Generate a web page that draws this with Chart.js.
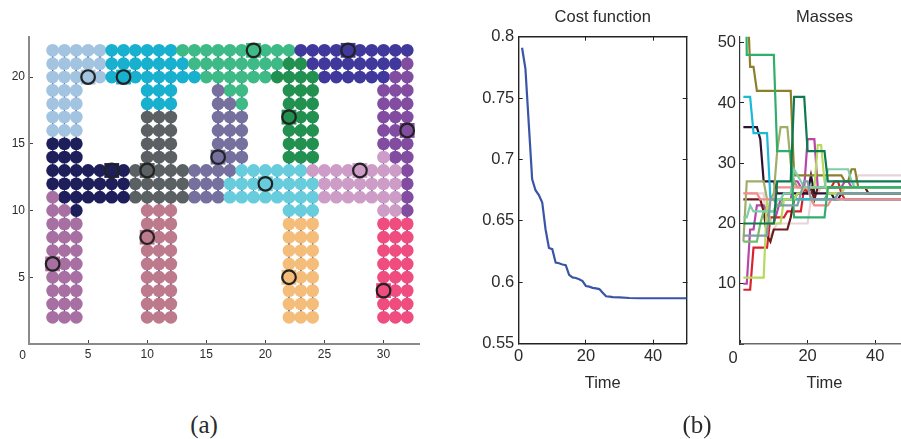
<!DOCTYPE html>
<html lang="en">
  <head>
    <title>clusters</title>
    <meta charset="utf-8">
    <script type="text/javascript" src="https://cdn.jsdelivr.net/npm/chart.js@4/dist/chart.umd.min.js"></script>
    <style>
      html, body { margin: 0; padding: 0; background: #fff; overflow: hidden; }
      body { position: relative; width: 901px; height: 439px; }
      canvas { position: absolute; top: 0; }
      span.lbl { position: absolute; transform: translate(-50%, -50%); color: #2b2b2b; line-height: 1; }
      span.tick { font-family: "Liberation Sans", sans-serif; }
      span.cap { font-family: "Liberation Serif", serif; font-size: 25px; }
    </style>
  </head>

  <body>
    <canvas id="grid-chart" width="440" height="370" style="left: 0"></canvas>
    <canvas id="cost-chart" width="230" height="400" style="left: 470px"></canvas>
    <canvas id="mass-chart" width="209" height="400" style="left: 700px"></canvas>
    <span class="lbl tick" style="left: 22.7px; top: 355px; font-size: 12px">0</span>
    <span class="lbl tick" style="left: 733px; top: 357px; font-size: 16.5px">0</span>
    <span class="lbl cap" style="left: 204px; top: 424px">(a)</span>
    <span class="lbl cap" style="left: 697px; top: 424px">(b)</span>

    <script>
      // one letter per node, x = 2..32, rows y = 22 down to 2
      var grid_rows = [
        "aaaaabbbbbbccccccccccdddddddddd",
        "aaaaabbbbbbbccccccccffdddddddde",
        "aaaaabbbbbbbbccccccffffddddddee",
        "aaa.....bbb...gcc...fff.....eee",
        "aaa.....bbb...ggc...fff.....eee",
        "aaa.....hhh...ggg...fff.....eee",
        "aaa.....hhh...ggg...fff.....eee",
        "iii.....hhh...ggg...fff.....eee",
        "iii.....hhh...ggg...fff.....kee",
        "iiiiiiihhhhhggggjjjjjjkkkkkkkke",
        "iiiiiiihhhhhgggjjjjjjjjkkkkkkke",
        "liiiiiihhhhhgggjjjjjjjjkkkkkkke",
        "lli.....mmm.........jjj.....kke",
        "lll.....mmm.........nnn.....ooo",
        "lll.....mmm.........nnn.....ooo",
        "lll.....mmm.........nnn.....ooo",
        "lll.....mmm.........nnn.....ooo",
        "lll.....mmm.........nnn.....ooo",
        "lll.....mmm.........nnn.....ooo",
        "lll.....mmm.........nnn.....ooo",
        "lll.....mmm.........nnn.....ooo"
      ];
      var cluster_keys = "abcdefghijklmno";
      var cluster_colors = ["#a3c4e0", "#17b1cf", "#3dba85", "#40389a", "#824ca0",
                            "#22904f", "#75709d", "#5b6163", "#1d1e5a", "#67ccdc",
                            "#cd9dc8", "#a86fa2", "#bd7a8c", "#f4bd7a", "#ef4d80"];
      var center_x = [5, 8, 19, 27, 22, 32, 16, 7, 10, 20, 28, 2, 10, 22, 30];
      var center_y = [20, 20, 22, 22, 17, 16, 14, 13, 13, 12, 13, 6, 8, 5, 4];

      var cost_time = [1, 2, 3, 4, 5, 6, 7, 8, 9, 10,
                       11, 12, 13, 14, 15, 16, 17, 18, 19, 20,
                       21, 22, 23, 24, 25, 26, 27, 28, 30, 33,
                       36, 40, 45, 50];
      var cost_values = [0.791, 0.774, 0.729, 0.684, 0.675, 0.671, 0.665, 0.643, 0.628, 0.627,
                         0.616, 0.6155, 0.6145, 0.614, 0.606, 0.604, 0.6035, 0.6025, 0.601, 0.597,
                         0.5965, 0.5955, 0.595, 0.5945, 0.5915, 0.5886, 0.5883, 0.588, 0.5878, 0.5872,
                         0.587, 0.587, 0.587, 0.587];

      // masses, one value per time step t = 1..50
      var mass_pale = [25,25,25,25,25,25,25,18,18,19, 20,20,20,20,20,20,20,20,20,20,
                       24,25,25,26,26,26,26,26,26,26, 26,26,26,27,28,28,28,28,28,28,
                       28,28,28,28,28,28,28,28,28,28];
      var mass_magenta = [10,10,19,19,23,23,23,22,20,20, 22,24,24,24,24,27,27,26,26,34,
                          34,34,26,26,26,26,26,26,26,26, 27,27,26,26,26,26,26,26,26,26,
                          26,26,26,26,26,26,26,26,26,26];
      var mass_red = [9,9,9,16,16,16,16,16,21,21, 21,21,21,22,22,22,22,22,26,25,
                      25,26,26,26,26,26,26,27,27,25, 24,24,24,24,24,24,24,24,24,24,
                      24,24,24,24,24,24,24,24,24,24];
      var mass_maroon = [24,24,24,24,24,24,22,18,17,19, 19,19,19,19,21,24,25,25,25,25,
                         26,24,26,26,26,26,26,26,26,26, 26,26,26,26,26,26,26,25,25,25,
                         25,25,25,25,25,25,25,25,25,25];
      var mass_black = [36,36,36,36,36,34,27,27,27,27, 25,25,25,25,25,25,25,25,25,25,
                        28,25,25,25,25,25,25,24,24,25, 25,25,25,25,25,25,25,25,25,25,
                        25,25,25,25,25,25,25,25,25,25];
      var mass_olive = [100,60,46,46,42,42,42,42,42,42, 42,42,42,42,42,28,28,28,28,28,
                        28,28,28,28,28,28,28,28,28,28, 27,27,29,29,26,26,26,26,26,26,
                        26,26,26,26,26,26,26,26,26,26];
      var mass_sage = [17,27,27,27,27,27,27,24,24,25, 32,36,36,36,30,27,26,26,26,26,
                       26,26,26,26,26,26,26,26,26,26, 26,26,26,26,26,26,26,26,26,26,
                       26,26,26,26,26,26,26,26,26,26];
      var mass_midgreen = [17,17,17,17,17,20,22,22,22,22, 23,23,24,24,24,24,24,24,24,24,
                           24,24,24,24,24,25,25,25,25,25, 25,25,25,25,25,25,25,25,25,25,
                           25,25,25,25,25,25,25,25,25,25];
      var mass_lime = [11,11,11,11,11,11,11,24,20,20, 20,20,24,24,24,24,25,25,26,26,
                       26,26,33,33,27,25,25,25,25,25, 26,26,26,26,26,26,26,26,26,26,
                       26,26,26,26,26,26,26,26,26,26];
      var mass_cyan = [41,41,41,35,35,35,35,35,24,24, 24,24,24,24,24,24,24,24,24,24,
                       24,24,24,24,24,24,24,24,24,24, 24,24,24,24,24,24,24,24,24,24,
                       24,24,24,24,24,24,24,24,24,24];
      var mass_salmon = [25,25,25,25,25,24,24,24,24,24, 26,26,26,26,26,26,26,26,26,26,
                         24,23,23,23,23,23,24,24,24,24, 24,24,24,24,24,24,24,24,24,24,
                         24,24,24,24,24,24,24,24,24,24];
      var mass_teal = [21,21,23,22,22,22,22,22,22,22, 24,24,25,25,25,29,28,27,26,26,
                       26,26,26,26,26,29,29,29,29,29, 29,29,27,26,26,26,26,26,26,26,
                       26,26,26,26,26,26,26,26,26,26];
      var mass_green = [100,48,48,48,48,48,48,48,48,48, 32,32,32,32,32,21,21,21,21,21,
                        21,21,21,21,21,26,26,26,26,26, 26,26,26,26,26,26,26,26,26,26,
                        26,26,26,26,26,26,26,26,26,26];
      var mass_greyteal = [18,18,18,18,18,18,18,18,24,24, 23,23,23,23,23,23,23,25,27,27,
                           24,24,24,24,24,24,24,24,25,25, 25,25,25,25,25,25,25,25,25,25,
                           25,25,25,25,25,25,25,25,25,25];
      var mass_darkgreen = [20,20,20,20,20,20,20,20,20,20, 27,27,27,27,27,41,41,41,41,32,
                            32,32,32,32,32,27,27,27,27,27, 27,27,27,27,27,27,27,27,27,27,
                            27,27,27,27,27,27,27,27,27,27];

      // bottom one first
      var mass_series = [mass_pale, mass_magenta, mass_red, mass_maroon, mass_black,
                         mass_olive, mass_sage, mass_midgreen, mass_cyan, mass_lime,
                         mass_salmon, mass_teal, mass_green, mass_greyteal, mass_darkgreen];
      var mass_colors = ["#e6d5d9", "#b646a8", "#d9222e", "#6d1a18", "#2b1433",
                         "#8d7f2b", "#9fae6a", "#72bf6a", "#1cb9d8", "#b9d85f",
                         "#f58b8b", "#7ccfa6", "#2fae6c", "#7f9ea6", "#0d7a50"];

      var SANS = "'Liberation Sans', sans-serif";
      Chart.defaults.animation = false;
      Chart.defaults.responsive = false;
      Chart.defaults.font.family = SANS;
      Chart.defaults.color = "#2b2b2b";
      Chart.defaults.plugins.legend.display = false;
      Chart.defaults.plugins.tooltip.enabled = false;

      function cell(x, y) {
        var row = grid_rows[22 - y];
        if (!row) return ".";
        return row.charAt(x - 2) || ".";
      }

      function cluster_points(key) {
        var pts = [];
        for (var y = 22; y >= 2; y--) {
          for (var x = 2; x <= 32; x++) {
            if (cell(x, y) == key) pts.push({x: x, y: y});
          }
        }
        return pts;
      }

      function graph_edges() {
        var pts = [];
        for (var y = 22; y >= 2; y--) {
          for (var x = 2; x <= 32; x++) {
            if (cell(x, y) == ".") continue;
            if (cell(x + 1, y) != ".") pts.push({x: x, y: y}, {x: x + 1, y: y}, {x: x, y: null});
            if (cell(x, y - 1) != ".") pts.push({x: x, y: y}, {x: x, y: y - 1}, {x: x, y: null});
          }
        }
        return pts;
      }

      function x_axis(max, step, height, opts) {
        return {
          type: "linear", min: 0, max: max,
          afterFit: function (s) { s.height = height; },
          border: {color: opts.border, width: opts.width},
          grid: {drawOnChartArea: false, tickLength: -4, color: opts.tick, lineWidth: 1},
          ticks: {
            stepSize: step, includeBounds: false, autoSkip: false, maxRotation: 0,
            padding: opts.padding, font: {size: opts.size}, color: "#2b2b2b",
            callback: opts.hide_zero ? function (v) { return v == 0 ? "" : v; } : undefined
          },
          title: opts.title ? {
            display: true, text: opts.title, color: "#2b2b2b",
            font: {size: 16.5}, padding: {top: 0, bottom: 7.1}
          } : {display: false}
        };
      }

      function y_axis(min, max, step, width, opts) {
        return {
          type: "linear", min: min, max: max,
          afterFit: function (s) { s.width = width; },
          border: {color: opts.border, width: opts.width},
          grid: {drawOnChartArea: false, tickLength: -4, color: opts.tick, lineWidth: 1},
          ticks: {
            stepSize: step, includeBounds: false, autoSkip: false,
            padding: opts.padding, font: {size: opts.size}, color: "#2b2b2b",
            callback: opts.callback
          }
        };
      }

      function title_opts(text) {
        return {
          display: true, text: text, color: "#2b2b2b", fullSize: false,
          font: {size: 16.5, weight: "normal"},
          padding: {top: 7.1, bottom: 9.8}
        };
      }

      // cluster graph, panel (a)
      function create_grid_chart() {
        var datasets = [{
          data: graph_edges(), showLine: true, spanGaps: false, pointRadius: 0,
          borderColor: "#3a4ea8", borderWidth: 1
        }];
        for (var i = 0; i < cluster_keys.length; i++) {
          datasets.push({
            data: cluster_points(cluster_keys.charAt(i)),
            pointRadius: 6.4, pointBorderWidth: 0,
            pointBackgroundColor: cluster_colors[i]
          });
        }
        var center_pts = [];
        var center_cols = [];
        for (var j = 0; j < center_x.length; j++) {
          center_pts.push({x: center_x[j], y: center_y[j]});
          center_cols.push(cluster_colors[cluster_keys.indexOf(cell(center_x[j], center_y[j]))]);
        }
        datasets.push({
          data: center_pts, pointStyle: "rect", pointRadius: 10.5, pointBorderWidth: 0,
          pointBackgroundColor: center_cols
        });
        datasets.push({
          data: center_pts, pointRadius: 6.8, pointBorderWidth: 2.2,
          pointBorderColor: "#222222", pointBackgroundColor: center_cols
        });
        datasets.forEach(function (d, i) { d.order = datasets.length - i; });

        return new Chart(document.getElementById("grid-chart"), {
          type: "scatter",
          data: {datasets: datasets},
          options: {
            layout: {padding: {top: 37, right: 21}},
            scales: {
              x: x_axis(33, 5, 26, {border: "#8a8a8a", width: 2, tick: "#444444", padding: 7.8, size: 12, hide_zero: true}),
              y: y_axis(0, 23, 5, 29, {
                border: "#8a8a8a", width: 2, tick: "#444444", padding: 8, size: 12,
                callback: function (v) { return v == 0 ? "" : v; }
              })
            }
          }
        });
      }

      function create_cost_chart() {
        var pts = cost_time.map(function (t, i) { return {x: t, y: cost_values[i]}; });
        return new Chart(document.getElementById("cost-chart"), {
          type: "scatter",
          data: {datasets: [{
            data: pts, showLine: true, pointRadius: 0,
            borderColor: "#3a55a8", borderWidth: 2.2
          }]},
          options: {
            layout: {padding: {right: 13.3}},
            plugins: {title: title_opts("Cost function")},
            scales: {
              x: x_axis(50, 20, 56.3, {border: "#222222", width: 1.4, tick: "#222222", padding: 6.8, size: 16.5, title: "Time"}),
              y: y_axis(0.55, 0.8, 0.05, 48.7, {
                border: "#222222", width: 1.4, tick: "#222222", padding: 8.4, size: 16.5,
                callback: function (v) { return String(+v.toFixed(2)); }
              }),
              x_top: {
                type: "linear", position: "top", min: 0, max: 50,
                afterFit: function (s) { s.height = 0; },
                border: {color: "#222222", width: 1.4},
                grid: {drawOnChartArea: false, tickLength: -4, color: "#222222"},
                ticks: {stepSize: 20, includeBounds: false, display: false}
              },
              y_right: {
                type: "linear", position: "right", min: 0.55, max: 0.8,
                afterFit: function (s) { s.width = 0; },
                border: {color: "#222222", width: 1.4},
                grid: {drawOnChartArea: false, tickLength: -4, color: "#222222"},
                ticks: {stepSize: 0.05, includeBounds: false, display: false}
              }
            }
          }
        });
      }

      function create_mass_chart() {
        var datasets = mass_series.map(function (vals, i) {
          return {
            data: vals.map(function (v, k) { return {x: k + 1, y: v}; }),
            showLine: true, pointRadius: 0, borderWidth: 2.2,
            borderColor: mass_colors[i], order: mass_series.length - i
          };
        });
        return new Chart(document.getElementById("mass-chart"), {
          type: "scatter",
          data: {datasets: datasets},
          options: {
            plugins: {title: title_opts("Masses")},
            scales: {
              x: x_axis(50, 20, 56, {border: "#6a6a6a", width: 1.4, tick: "#222222", padding: 6.8, size: 16.5, hide_zero: true, title: "Time"}),
              y: y_axis(0, 51, 10, 40, {
                border: "#333333", width: 1.2, tick: "#222222", padding: 8, size: 16.5,
                callback: function (v) { return v == 0 ? "" : v; }
              })
            }
          }
        });
      }

      create_grid_chart();
      create_cost_chart();
      create_mass_chart();
    </script>
  </body>
</html>
